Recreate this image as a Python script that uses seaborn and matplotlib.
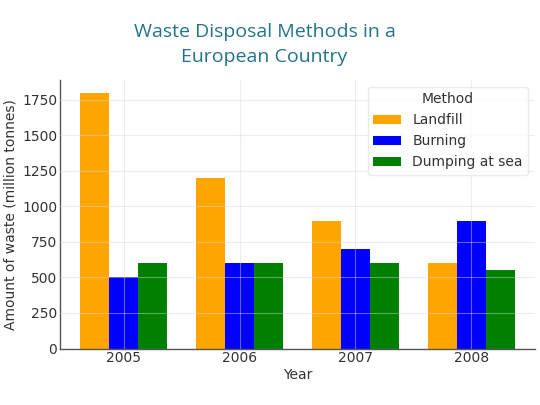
import matplotlib
matplotlib.use("Agg")
import matplotlib.pyplot as plt
import seaborn as sns
import pandas as pd

years = ["2005", "2006", "2007", "2008"]
methods = ["Landfill", "Burning", "Dumping at sea"]
landfill = [1800, 1200, 900, 600]
burning = [500, 600, 700, 900]
dumping = [600, 600, 600, 550]
colors = ["orange", "blue", "green"]

rows = []
for m, vals in zip(methods, [landfill, burning, dumping]):
    for y, v in zip(years, vals):
        rows.append({"Year": y, "Method": m, "Amount": v})
df = pd.DataFrame(rows)

sns.set_theme(style="whitegrid")
plt.rcParams["font.family"] = ["DejaVu Sans"]

fig = plt.figure(figsize=(5.4, 4.05), dpi=100)
ax = fig.add_axes([0.111, 0.1395, 0.880, 0.663])

sns.barplot(data=df, x="Year", y="Amount", hue="Method", order=years,
            hue_order=methods, palette=colors, width=0.75, ax=ax,
            saturation=1, errorbar=None, linewidth=0, edgecolor="none")

ax.set_xlim(-0.55, 3.55)
ax.set_ylim(0, 1890)
ax.set_yticks([0, 250, 500, 750, 1000, 1250, 1500, 1750])
ax.set_axisbelow(False)
ax.grid(True, color="#d8d8d8", linewidth=0.8, alpha=0.45)
for s in ["top", "right"]:
    ax.spines[s].set_visible(False)
for s in ["left", "bottom"]:
    ax.spines[s].set_color("#555555")
    ax.spines[s].set_linewidth(1.0)
ax.tick_params(axis="both", labelsize=10, colors="#333333", length=0, pad=2)
ax.set_xlabel("Year", fontsize=10, color="#333333", labelpad=2)
ax.set_ylabel("Amount of waste (million tonnes)", fontsize=10, color="#333333", labelpad=3)

leg = ax.legend(title="Method", loc="upper right", fontsize=10, title_fontsize=10,
                frameon=True)
leg.get_frame().set_edgecolor("#e6e6e6")
for t in leg.get_texts():
    t.set_color("#333333")
leg.get_title().set_color("#333333")

fig.text(0.49, 0.89, "Waste Disposal Methods in a\nEuropean Country", ha="center",
         va="center", fontsize=14, color="#23748b", family=["Open Sans", "DejaVu Sans"],
         linespacing=1.5)

fig.savefig("out.png", dpi=100)
